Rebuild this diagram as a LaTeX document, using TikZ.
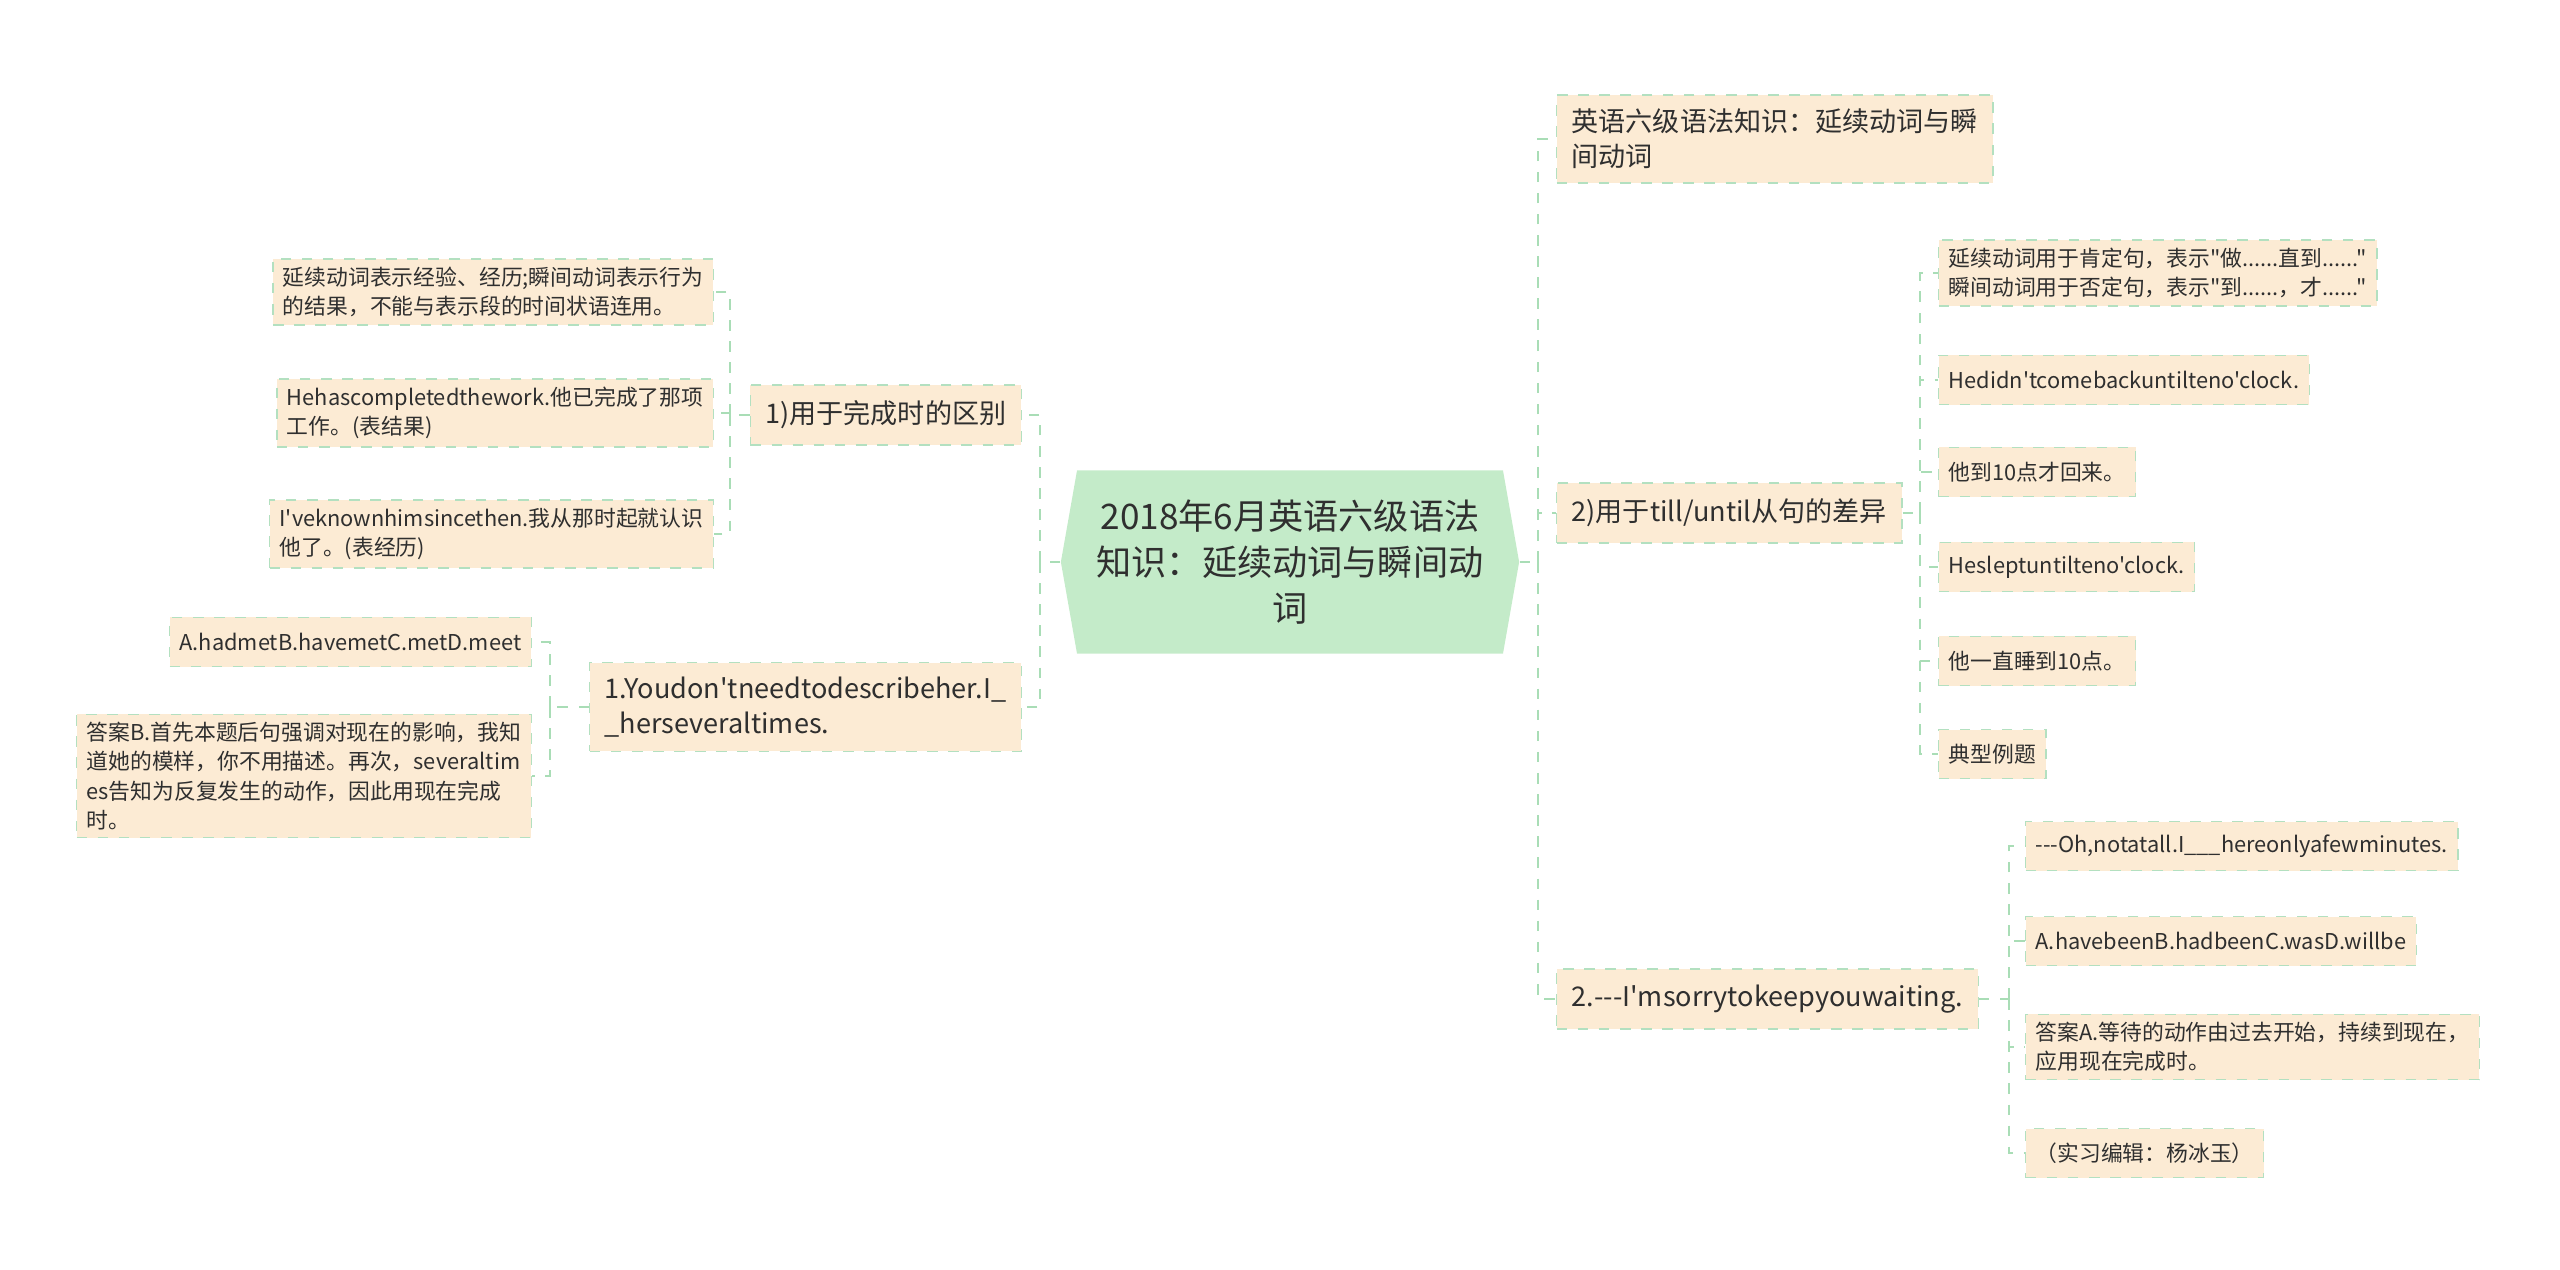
\documentclass[tikz,border=0pt]{standalone}
\usepackage{fontspec}
\newfontfamily\yhfont{Noto Sans CJK SC}
\usetikzlibrary{shapes.symbols,positioning}

\definecolor{rootgreen}{HTML}{C4EBC9}
\definecolor{peach}{HTML}{FCEBD4}
\definecolor{edgegreen}{HTML}{B3E0C0}
\definecolor{linkgreen}{HTML}{A9DDB6}
\definecolor{inkgray}{HTML}{2F2F2F}

\tikzset{
  topic/.style={shape=signal, signal to=west and east, signal pointer angle=160,
    fill=rootgreen, text=inkgray, align=center, minimum width=4.58cm, minimum height=1.83cm,
    font=\yhfont\fontsize{10}{13}\selectfont},
  branch/.style={fill=peach, draw=edgegreen, dashed, line width=0.4pt, text=inkgray,
    align=left, inner xsep=0.15cm, inner ysep=0.14cm, minimum height=0.6cm,
    font=\yhfont\fontsize{7.7}{10}\selectfont},
  leaf/.style={fill=peach, draw=edgegreen, dashed, line width=0.4pt, text=inkgray,
    align=left, inner xsep=0.1cm, inner ysep=0.08cm, minimum height=0.49cm,
    font=\yhfont\fontsize{6.2}{8.3}\selectfont},
  link/.style={draw=linkgreen, dashed, line width=0.6pt}
}

\begin{document}
\begin{tikzpicture}[x=0.01cm,y=-0.01cm]
\useasboundingbox (0,0) rectangle (2560,1269);

\node (root) [topic] at (1290,562) {2018年6月英语六级语法\\知识：延续动词与瞬间动\\词};

% left side
\node (ta) [branch, anchor=east] at (1022,415) {1)用于完成时的区别};
\node (tb) [branch, anchor=east] at (1022,707) {1.Youdon'tneedtodescribeher.I\_\\\_herseveraltimes.};

\node (ta1) [leaf, anchor=east] at (714,292) {延续动词表示经验、经历;瞬间动词表示行为\\的结果，不能与表示段的时间状语连用。};
\node (ta2) [leaf, anchor=east] at (714,413) {Hehascompletedthework.他已完成了那项\\工作。(表结果)};
\node (ta3) [leaf, anchor=east] at (714,534) {I'veknownhimsincethen.我从那时起就认识\\他了。(表经历)};

\node (tb1) [leaf, anchor=east] at (532,642) {A.hadmetB.havemetC.metD.meet};
\node (tb2) [leaf, anchor=east] at (532,776) {答案B.首先本题后句强调对现在的影响，我知\\道她的模样，你不用描述。再次，severaltim\\es告知为反复发生的动作，因此用现在完成\\时。};

% right side
\node (tc) [branch, anchor=west] at (1556,139) {英语六级语法知识：延续动词与瞬\\间动词};
\node (td) [branch, anchor=west] at (1556,513) {2)用于till/until从句的差异};
\node (te) [branch, anchor=west] at (1556,999) {2.---I'msorrytokeepyouwaiting.};

\node (td1) [leaf, anchor=west] at (1938,273) {延续动词用于肯定句，表示"做......直到......"\\瞬间动词用于否定句，表示"到......，才......"};
\node (td2) [leaf, anchor=west] at (1938,380) {Hedidn'tcomebackuntilteno'clock.};
\node (td3) [leaf, anchor=west] at (1938,472) {他到10点才回来。};
\node (td4) [leaf, anchor=west] at (1938,567) {Hesleptuntilteno'clock.};
\node (td5) [leaf, anchor=west] at (1938,661) {他一直睡到10点。};
\node (td6) [leaf, anchor=west] at (1938,754) {典型例题};

\node (te1) [leaf, anchor=west] at (2025,846) {---Oh,notatall.I\_\_\_hereonlyafewminutes.};
\node (te2) [leaf, anchor=west] at (2025,941) {A.havebeenB.hadbeenC.wasD.willbe};
\node (te3) [leaf, anchor=west] at (2025,1047) {答案A.等待的动作由过去开始，持续到现在，\\应用现在完成时。};
\node (te4) [leaf, anchor=west] at (2025,1153) {（实习编辑：杨冰玉）};

% junctions
\coordinate (jl) at (1040,562);
\coordinate (jr) at (1538,562);
\coordinate (ja) at (730,415);
\coordinate (jb) at (550,707);
\coordinate (jd) at (1920,513);
\coordinate (je) at (2009,999);

\draw[link] (root.west) -- (jl);
\foreach \n in {ta,tb} \draw[link] (jl) |- (\n.east);
\draw[link] (root.east) -- (jr);
\foreach \n in {tc,td,te} \draw[link] (jr) |- (\n.west);

\draw[link] (ta.west) -- (ja);
\foreach \n in {ta1,ta2,ta3} \draw[link] (ja) |- (\n.east);
\draw[link] (tb.west) -- (jb);
\foreach \n in {tb1,tb2} \draw[link] (jb) |- (\n.east);
\draw[link] (td.east) -- (jd);
\foreach \n in {td1,td2,td3,td4,td5,td6} \draw[link] (jd) |- (\n.west);
\draw[link] (te.east) -- (je);
\foreach \n in {te1,te2,te3,te4} \draw[link] (je) |- (\n.west);
\end{tikzpicture}
\end{document}
